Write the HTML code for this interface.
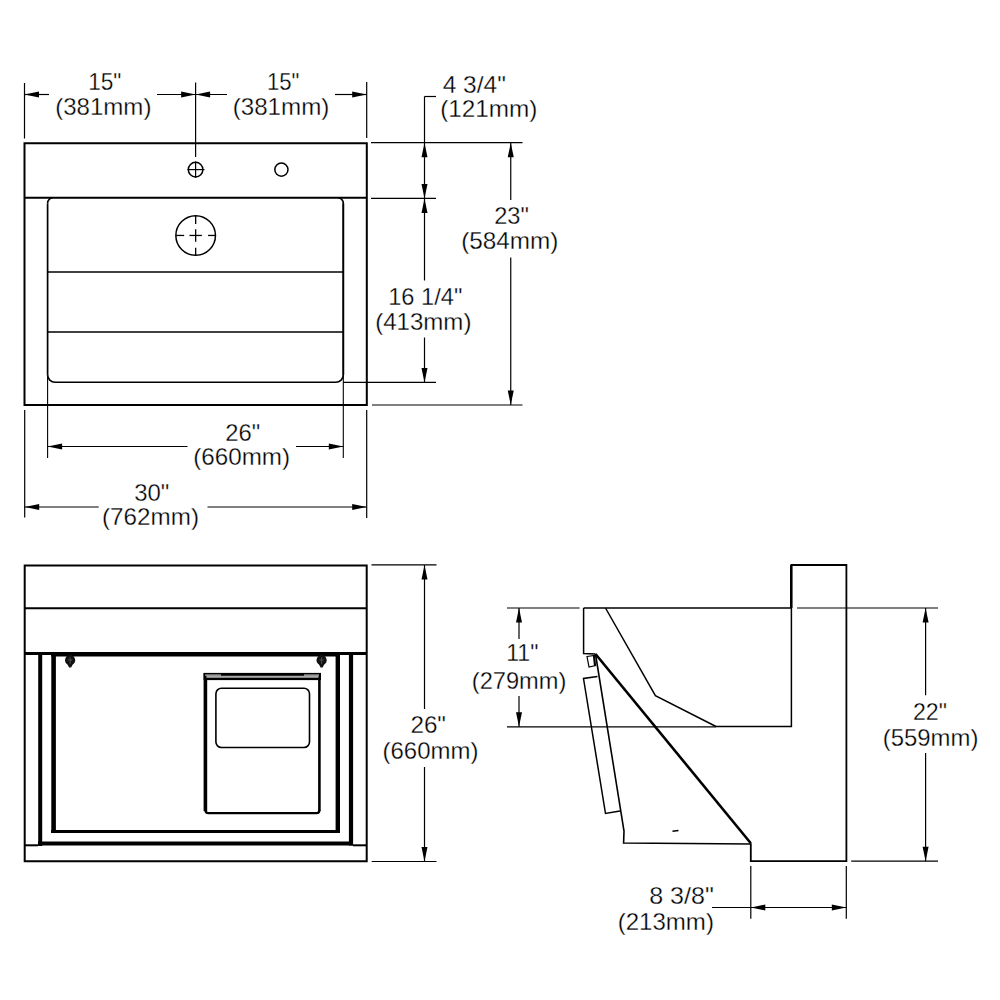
<!DOCTYPE html>
<html><head><meta charset="utf-8"><style>
html,body{margin:0;padding:0;background:#fff;width:1000px;height:1000px;overflow:hidden}
svg{display:block}
text{font-family:"Liberation Sans",sans-serif;fill:#000;stroke:#fff;stroke-width:0.3px}
.tg{opacity:0.999}
</style></head><body>
<svg width="1000" height="1000" viewBox="0 0 1000 1000" stroke-linecap="butt">
<rect width="1000" height="1000" fill="#fff"/>
<path d="M24.5,143.2 H366.8 V405 H24.5 Z" fill="none" stroke="#000" stroke-width="2.0" />
<line x1="24.5" y1="197.8" x2="366.8" y2="197.8" stroke="#000" stroke-width="2.0"/>
<path d="M47.6,203.3 A5.5,5.5 0 0 1 53.1,197.8 M337.8,197.8 A5.5,5.5 0 0 1 343.3,203.3 V374.8 A7.5,7.5 0 0 1 335.8,382.3 H55.1 A7.5,7.5 0 0 1 47.6,374.8" fill="none" stroke="#000" stroke-width="1.6" />
<line x1="47.6" y1="203.3" x2="47.6" y2="374.8" stroke="#000" stroke-width="1.7"/>
<line x1="343.3" y1="203.3" x2="343.3" y2="374.8" stroke="#000" stroke-width="1.7"/>
<line x1="47.6" y1="374.8" x2="47.6" y2="458" stroke="#000" stroke-width="1.1"/>
<line x1="343.3" y1="374.8" x2="343.3" y2="458" stroke="#000" stroke-width="1.1"/>
<line x1="47.6" y1="272" x2="343.3" y2="272" stroke="#000" stroke-width="1.5"/>
<line x1="47.6" y1="332" x2="343.3" y2="332" stroke="#000" stroke-width="1.5"/>
<circle cx="195.6" cy="169.6" r="7.3" fill="none" stroke="#000" stroke-width="1.5"/>
<line x1="187.5" y1="169.6" x2="204.5" y2="169.6" stroke="#000" stroke-width="1.2"/>
<line x1="195.6" y1="161.5" x2="195.6" y2="177.7" stroke="#000" stroke-width="1.2"/>
<circle cx="281.4" cy="169.6" r="6.6" fill="none" stroke="#000" stroke-width="1.5"/>
<circle cx="195.66" cy="235.45" r="19.8" fill="none" stroke="#000" stroke-width="1.5"/>
<line x1="176.16" y1="235.45" x2="184.16" y2="235.45" stroke="#000" stroke-width="1.3"/>
<line x1="195.66" y1="215.95" x2="195.66" y2="223.95" stroke="#000" stroke-width="1.3"/>
<line x1="189.46" y1="235.45" x2="201.85999999999999" y2="235.45" stroke="#000" stroke-width="1.3"/>
<line x1="195.66" y1="229.25" x2="195.66" y2="241.64999999999998" stroke="#000" stroke-width="1.3"/>
<line x1="208.06" y1="235.45" x2="215.16" y2="235.45" stroke="#000" stroke-width="1.3"/>
<line x1="195.66" y1="247.85" x2="195.66" y2="254.95" stroke="#000" stroke-width="1.3"/>
<line x1="24.5" y1="83" x2="24.5" y2="138.5" stroke="#000" stroke-width="1.2"/>
<line x1="195.6" y1="82.5" x2="195.6" y2="157" stroke="#000" stroke-width="1.2"/>
<line x1="366.7" y1="82" x2="366.7" y2="138" stroke="#000" stroke-width="1.2"/>
<line x1="24.5" y1="94.5" x2="49" y2="94.5" stroke="#000" stroke-width="1.2"/>
<polygon points="24.5,94.5 39.0,91.5 39.0,97.5" fill="#000"/>
<line x1="157" y1="94.5" x2="227" y2="94.5" stroke="#000" stroke-width="1.2"/>
<polygon points="195.6,94.5 181.1,91.5 181.1,97.5" fill="#000"/>
<polygon points="195.6,94.5 210.1,91.5 210.1,97.5" fill="#000"/>
<line x1="335" y1="94.5" x2="366.7" y2="94.5" stroke="#000" stroke-width="1.2"/>
<polygon points="366.7,94.5 352.2,91.5 352.2,97.5" fill="#000"/>
<line x1="371" y1="142.7" x2="522.5" y2="142.7" stroke="#000" stroke-width="1.2"/>
<line x1="371" y1="198.4" x2="436" y2="198.4" stroke="#000" stroke-width="1.2"/>
<line x1="424.5" y1="96.5" x2="436" y2="96.5" stroke="#000" stroke-width="1.2"/>
<line x1="424.5" y1="96.5" x2="424.5" y2="280.5" stroke="#000" stroke-width="1.2"/>
<polygon points="424.5,142.7 421.5,157.2 427.5,157.2" fill="#000"/>
<polygon points="424.5,198.4 421.5,183.9 427.5,183.9" fill="#000"/>
<polygon points="424.5,198.4 421.5,212.9 427.5,212.9" fill="#000"/>
<line x1="424.5" y1="337.5" x2="424.5" y2="382.5" stroke="#000" stroke-width="1.2"/>
<polygon points="424.5,382.5 421.5,368.0 427.5,368.0" fill="#000"/>
<line x1="343.3" y1="382.4" x2="436" y2="382.4" stroke="#000" stroke-width="1.2"/>
<line x1="372" y1="405" x2="522.5" y2="405" stroke="#000" stroke-width="1.2"/>
<line x1="510.75" y1="142.7" x2="510.75" y2="200" stroke="#000" stroke-width="1.2"/>
<polygon points="510.75,142.7 507.75,157.2 513.75,157.2" fill="#000"/>
<line x1="510.75" y1="257.5" x2="510.75" y2="405" stroke="#000" stroke-width="1.2"/>
<polygon points="510.75,405 507.75,390.5 513.75,390.5" fill="#000"/>
<line x1="47.6" y1="446.5" x2="187.5" y2="446.5" stroke="#000" stroke-width="1.2"/>
<polygon points="47.6,446.5 62.1,443.5 62.1,449.5" fill="#000"/>
<line x1="296" y1="446.5" x2="343.3" y2="446.5" stroke="#000" stroke-width="1.2"/>
<polygon points="343.3,446.5 328.8,443.5 328.8,449.5" fill="#000"/>
<line x1="24.7" y1="410" x2="24.7" y2="517.5" stroke="#000" stroke-width="1.2"/>
<line x1="366.7" y1="410" x2="366.7" y2="518" stroke="#000" stroke-width="1.2"/>
<line x1="24.7" y1="507" x2="98.75" y2="507" stroke="#000" stroke-width="1.2"/>
<polygon points="24.7,507 39.2,504.0 39.2,510.0" fill="#000"/>
<line x1="207.5" y1="507" x2="366.7" y2="507" stroke="#000" stroke-width="1.2"/>
<polygon points="366.7,507 352.2,504.0 352.2,510.0" fill="#000"/>
<path d="M24.7,565.5 H366.7 V861.2 H24.7 Z" fill="none" stroke="#000" stroke-width="2.0" />
<line x1="24.7" y1="608.3" x2="366.7" y2="608.3" stroke="#000" stroke-width="2.0"/>
<line x1="24.7" y1="653.5" x2="51" y2="653.5" stroke="#000" stroke-width="3"/>
<line x1="51" y1="654.2" x2="340" y2="654.2" stroke="#000" stroke-width="4.4"/>
<line x1="340" y1="653.5" x2="366.7" y2="653.5" stroke="#000" stroke-width="3"/>
<line x1="40.2" y1="654" x2="40.2" y2="846" stroke="#000" stroke-width="4"/>
<line x1="53.6" y1="654" x2="53.6" y2="830.5" stroke="#000" stroke-width="4.6"/>
<line x1="337.8" y1="654" x2="337.8" y2="833" stroke="#000" stroke-width="4.4"/>
<line x1="351" y1="654" x2="351" y2="845.5" stroke="#000" stroke-width="4.2"/>
<line x1="51" y1="831.6" x2="340" y2="831.6" stroke="#000" stroke-width="3"/>
<line x1="38" y1="843.6" x2="353" y2="843.6" stroke="#000" stroke-width="4"/>
<line x1="24.7" y1="845.3" x2="38" y2="845.3" stroke="#000" stroke-width="2"/>
<line x1="353" y1="845.3" x2="366.7" y2="845.3" stroke="#000" stroke-width="2"/>
<circle cx="70.1" cy="660.2" r="5.1" fill="#111"/>
<path d="M66.89999999999999,663.2 L73.3,663.2 L71.1,667.6 L69.1,667.6 Z" fill="#111"/>
<path d="M67.89999999999999,660.0 H72.3 M70.1,657.2 V664.2" stroke="#555" stroke-width="0.9" fill="none"/>
<circle cx="321.6" cy="660.2" r="5.1" fill="#111"/>
<path d="M318.40000000000003,663.2 L324.8,663.2 L322.6,667.6 L320.6,667.6 Z" fill="#111"/>
<path d="M319.40000000000003,660.0 H323.8 M321.6,657.2 V664.2" stroke="#555" stroke-width="0.9" fill="none"/>
<line x1="205.4" y1="673" x2="205.4" y2="811" stroke="#000" stroke-width="3.6"/>
<line x1="319.4" y1="673" x2="319.4" y2="811" stroke="#000" stroke-width="2.6"/>
<path d="M205.4,810 Q205.4,813.2 208.4,813.2 H316.6 Q319.4,813.2 319.4,810" fill="none" stroke="#000" stroke-width="2.2" />
<rect x="203.6" y="672.9" width="117.4" height="7.2" fill="#000"/>
<rect x="205.2" y="674.4" width="15.8" height="1.4" fill="#aaa"/>
<rect x="304" y="674.4" width="15" height="1.4" fill="#aaa"/>
<rect x="206.5" y="675.8" width="112" height="1.0" fill="#ddd"/>
<rect x="206.5" y="676.8" width="112" height="1.2" fill="#888"/>
<rect x="215.9" y="688.3" width="93.6" height="59.2" rx="5.5" fill="none" stroke="#000" stroke-width="1.6"/>
<line x1="371.5" y1="564.8" x2="436.5" y2="564.8" stroke="#000" stroke-width="1.2"/>
<line x1="371.7" y1="861.5" x2="436.5" y2="861.5" stroke="#000" stroke-width="1.2"/>
<line x1="424.5" y1="565" x2="424.5" y2="709" stroke="#000" stroke-width="1.2"/>
<polygon points="424.5,565 421.5,579.5 427.5,579.5" fill="#000"/>
<line x1="424.5" y1="767" x2="424.5" y2="861.5" stroke="#000" stroke-width="1.2"/>
<polygon points="424.5,861.5 421.5,847.0 427.5,847.0" fill="#000"/>
<path d="M583.6,608 H791.4" fill="none" stroke="#000" stroke-width="1.6" />
<path d="M791.4,608 V565 H846.4 V861.2 H750.8 V843.2" fill="none" stroke="#000" stroke-width="1.8" />
<line x1="791.2" y1="565" x2="791.2" y2="608" stroke="#000" stroke-width="2.4"/>
<path d="M791.4,608 V726.5 H716" fill="none" stroke="#000" stroke-width="1.5" />
<path d="M583.6,608 V653.5 L595.5,654" fill="none" stroke="#000" stroke-width="1.5" />
<path d="M605.5,608 L655.4,695.6 L716,726.5" fill="none" stroke="#000" stroke-width="1.5" />
<path d="M595.5,654 L750.8,843.2" fill="none" stroke="#000" stroke-width="2.6" />
<path d="M595.5,654 L624,831 L623.6,843 L750.8,844" fill="none" stroke="#000" stroke-width="1.6" />
<path d="M597.5,676.5 L583.5,678.5 L605.5,813.5 L620,811" fill="none" stroke="#000" stroke-width="1.5" />
<path d="M587,656.5 L594.5,655.5 L595.5,665.5 L589,667 Z M593.5,656 L594.5,665.5" fill="none" stroke="#000" stroke-width="1.2" />
<line x1="672.5" y1="831.2" x2="678.5" y2="830.5" stroke="#000" stroke-width="1.6"/>
<line x1="507" y1="608" x2="579.6" y2="608" stroke="#000" stroke-width="1.2"/>
<line x1="507" y1="726.8" x2="716" y2="726.8" stroke="#000" stroke-width="1.2"/>
<line x1="519" y1="608" x2="519" y2="639" stroke="#000" stroke-width="1.2"/>
<polygon points="519,608 516.0,622.5 522.0,622.5" fill="#000"/>
<line x1="519" y1="696" x2="519" y2="726.8" stroke="#000" stroke-width="1.2"/>
<polygon points="519,726.8 516.0,712.3 522.0,712.3" fill="#000"/>
<line x1="797" y1="608" x2="938" y2="608" stroke="#000" stroke-width="1.2"/>
<line x1="851.2" y1="861.2" x2="938" y2="861.2" stroke="#000" stroke-width="1.2"/>
<line x1="925.6" y1="608" x2="925.6" y2="695.2" stroke="#000" stroke-width="1.2"/>
<polygon points="925.6,608 922.6,622.5 928.6,622.5" fill="#000"/>
<line x1="925.6" y1="752.9" x2="925.6" y2="861.2" stroke="#000" stroke-width="1.2"/>
<polygon points="925.6,861.2 922.6,846.7 928.6,846.7" fill="#000"/>
<line x1="750.8" y1="866" x2="750.8" y2="918.8" stroke="#000" stroke-width="1.2"/>
<line x1="846.3" y1="866" x2="846.3" y2="918.8" stroke="#000" stroke-width="1.2"/>
<line x1="712" y1="907.5" x2="846.3" y2="907.5" stroke="#000" stroke-width="1.2"/>
<polygon points="750.8,907.5 765.3,904.5 765.3,910.5" fill="#000"/>
<polygon points="846.3,907.5 831.8,904.5 831.8,910.5" fill="#000"/>
<g class="tg">
<text x="88.2" y="90" font-size="24" textLength="33.2" lengthAdjust="spacingAndGlyphs">15&quot;</text>
<text x="55.2" y="114.5" font-size="24" textLength="96.2" lengthAdjust="spacingAndGlyphs">(381mm)</text>
<text x="266.9" y="90" font-size="24" textLength="32.4" lengthAdjust="spacingAndGlyphs">15&quot;</text>
<text x="232.7" y="114.5" font-size="24" textLength="96.7" lengthAdjust="spacingAndGlyphs">(381mm)</text>
<text x="442.7" y="93" font-size="24" textLength="63.2" lengthAdjust="spacingAndGlyphs">4 3/4&quot;</text>
<text x="440.2" y="117" font-size="24" textLength="97.2" lengthAdjust="spacingAndGlyphs">(121mm)</text>
<text x="388.2" y="304.5" font-size="24" textLength="74.2" lengthAdjust="spacingAndGlyphs">16 1/4&quot;</text>
<text x="375.2" y="329.75" font-size="24" textLength="96.2" lengthAdjust="spacingAndGlyphs">(413mm)</text>
<text x="494.2" y="223.75" font-size="24" textLength="34.7" lengthAdjust="spacingAndGlyphs">23&quot;</text>
<text x="461.2" y="249" font-size="24" textLength="97.2" lengthAdjust="spacingAndGlyphs">(584mm)</text>
<text x="225.2" y="441" font-size="24" textLength="34.9" lengthAdjust="spacingAndGlyphs">26&quot;</text>
<text x="193.2" y="465" font-size="24" textLength="96.9" lengthAdjust="spacingAndGlyphs">(660mm)</text>
<text x="134.2" y="501" font-size="24" textLength="35.2" lengthAdjust="spacingAndGlyphs">30&quot;</text>
<text x="102.0" y="525" font-size="24" textLength="97.0" lengthAdjust="spacingAndGlyphs">(762mm)</text>
<text x="410.4" y="732.8" font-size="24" textLength="35.6" lengthAdjust="spacingAndGlyphs">26&quot;</text>
<text x="382.5" y="758.5" font-size="24" textLength="95.9" lengthAdjust="spacingAndGlyphs">(660mm)</text>
<text x="506.2" y="661.3" font-size="24" textLength="32.2" lengthAdjust="spacingAndGlyphs">11&quot;</text>
<text x="471.8" y="689" font-size="24" textLength="94.6" lengthAdjust="spacingAndGlyphs">(279mm)</text>
<text x="912.9" y="720.4" font-size="24" textLength="34.0" lengthAdjust="spacingAndGlyphs">22&quot;</text>
<text x="882.7" y="746.3" font-size="24" textLength="95.7" lengthAdjust="spacingAndGlyphs">(559mm)</text>
<text x="649.2" y="903.75" font-size="24" textLength="64.7" lengthAdjust="spacingAndGlyphs">8 3/8&quot;</text>
<text x="617.7" y="929.5" font-size="24" textLength="96.2" lengthAdjust="spacingAndGlyphs">(213mm)</text>
</g>
</svg>
</body></html>
